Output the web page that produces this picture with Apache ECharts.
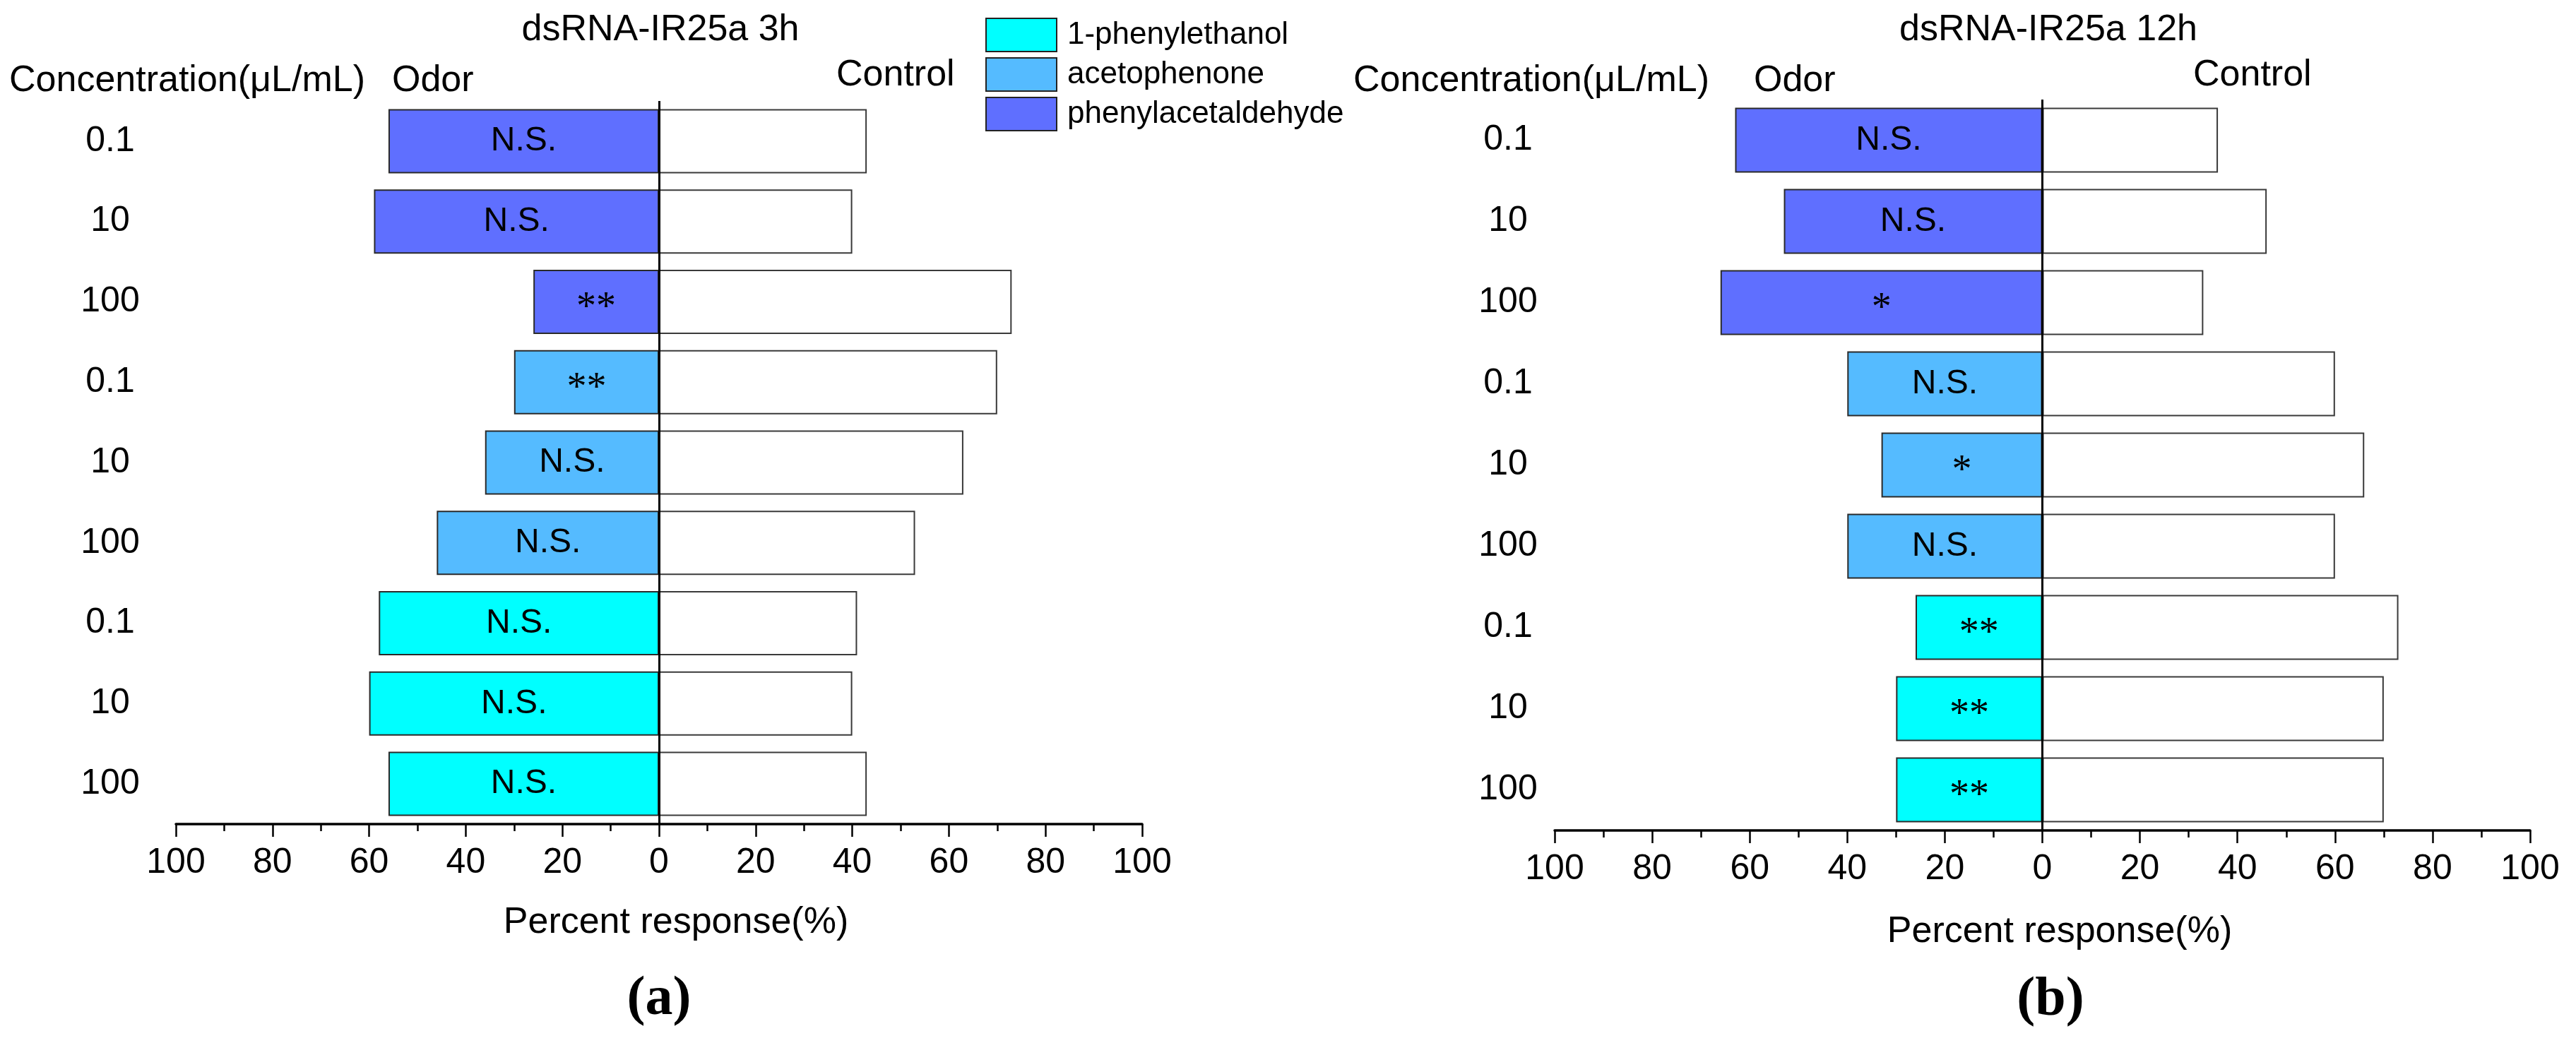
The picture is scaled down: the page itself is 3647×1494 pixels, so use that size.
<!DOCTYPE html>
<html><head><meta charset="utf-8">
<script src="https://cdn.jsdelivr.net/npm/echarts@6/dist/echarts.min.js"></script>
<style>html,body{margin:0;padding:0;background:#fff}#c{width:3647px;height:1494px}</style>
</head><body><div id="c"></div>
<script>
// ---------- data ----------
const categories = ['0.1', '10', '100', '0.1', '10', '100', '0.1', '10', '100'];
const compounds = ['1-phenylethanol', 'acetophenone', 'phenylacetaldehyde'];
const rowCompound = ['phenylacetaldehyde', 'phenylacetaldehyde', 'phenylacetaldehyde',
  'acetophenone', 'acetophenone', 'acetophenone',
  '1-phenylethanol', '1-phenylethanol', '1-phenylethanol'];
const odor3h = [56, 59, 26, 30, 36, 46, 58, 60, 56];
const control3h = [43, 40, 73, 70, 63, 53, 41, 40, 43];
const sig3h = ['N.S.', 'N.S.', '**', '**', 'N.S.', 'N.S.', 'N.S.', 'N.S.', 'N.S.'];
const odor12h = [63, 53, 66, 40, 33, 40, 26, 30, 30];
const control12h = [36, 46, 33, 60, 66, 60, 73, 70, 70];
const sig12h = ['N.S.', 'N.S.', '*', 'N.S.', '*', 'N.S.', '**', '**', '**'];
const panelTitles = ['dsRNA-IR25a 3h', 'dsRNA-IR25a 12h'];
const panelLetters = ['(a)', '(b)'];

// ---------- styles ----------
const colors = {
  '1-phenylethanol': '#00FFFF',
  'acetophenone': '#55BBFF',
  'phenylacetaldehyde': '#5F6FFF'
};
const SANS = '"Liberation Sans", Arial, sans-serif';
const SERIF = '"Liberation Serif", "Times New Roman", serif';

function panelSeries(gi, odor, control, sig) {
  const s = [];
  compounds.forEach(c => {
    s.push({
      name: c, type: 'bar', xAxisIndex: gi, yAxisIndex: gi,
      barWidth: '80%', barGap: '-100%',
      data: odor.map((v, i) => rowCompound[i] === c ? -v : null),
      itemStyle: { color: colors[c], borderColor: '#2a2a2a', borderWidth: 2 },
      label: {
        show: true, position: 'inside',
        formatter: p => sig[p.dataIndex] === 'N.S.' ? '{ns|N.S.}' : '{st|' + sig[p.dataIndex] + '}',
        rich: {
          ns: { fontFamily: SANS, fontSize: 48, color: '#000' },
          st: { fontFamily: SERIF, fontSize: 56, color: '#000', padding: [20, 0, 0, 0] }
        }
      },
      silent: true
    });
  });
  s.push({
    name: 'Control', type: 'bar', xAxisIndex: gi, yAxisIndex: gi,
    barWidth: '80%', barGap: '-100%',
    data: control,
    itemStyle: { color: '#fff', borderColor: '#3a3a3a', borderWidth: 2 },
    markLine: {
      silent: true, symbol: 'none', label: { show: false },
      lineStyle: { color: '#000', width: 3, type: 'solid' },
      data: [{ xAxis: 0 }]
    },
    silent: true
  });
  return s;
}

function xAxis(gi) {
  return {
    type: 'value', gridIndex: gi, min: -100, max: 100, interval: 20,
    axisLine: { show: true, onZero: false, lineStyle: { color: '#000', width: 3.5 } },
    axisTick: { show: true, length: 18, lineStyle: { color: '#000', width: 2.5 } },
    minorTick: { show: true, splitNumber: 2, length: 10, lineStyle: { color: '#000', width: 2.5 } },
    splitLine: { show: false }, minorSplitLine: { show: false },
    axisLabel: { fontFamily: SANS, fontSize: 50, color: '#000', margin: 30, formatter: v => Math.abs(v) }
  };
}
function yAxis(gi, margin) {
  return {
    type: 'category', gridIndex: gi, data: categories, inverse: true, position: 'left',
    axisLine: { show: false, onZero: false }, axisTick: { show: false }, splitLine: { show: false },
    axisLabel: { fontFamily: SANS, fontSize: 50, color: '#000', align: 'center', margin: margin }
  };
}

function txt(text, x, y, font, align) {
  return {
    type: 'text', x: x, y: y, silent: true,
    style: { text: text, font: font, fill: '#000', align: align || 'center', verticalAlign: 'middle',
      textAlign: align || 'center', textVerticalAlign: 'middle' }
  };
}

const chart = echarts.init(document.getElementById('c'), null, { renderer: 'canvas' });
chart.setOption({
  animation: false,
  backgroundColor: '#fff',
  grid: [
    { left: 249, right: 2030, top: 143, bottom: 327 },
    { left: 2201, right: 65, top: 141, bottom: 318 }
  ],
  legend: {
    data: compounds, orient: 'vertical', left: 1390, top: 20,
    itemWidth: 100, itemHeight: 47, itemGap: 7, icon: 'rect',
    itemStyle: { borderColor: '#222', borderWidth: 2 },
    textStyle: { fontFamily: SANS, fontSize: 44, color: '#000', padding: [0, 0, 0, 10] },
    selectedMode: false
  },
  xAxis: [xAxis(0), xAxis(1)],
  yAxis: [yAxis(0, 93), yAxis(1, 66)],
  series: [...panelSeries(0, odor3h, control3h, sig3h), ...panelSeries(1, odor12h, control12h, sig12h)],
  graphic: [
    txt(panelTitles[0], 935, 43, '52px ' + SANS),
    txt(panelTitles[1], 2900, 43, '52px ' + SANS),
    txt('Concentration(μL/mL)', 13, 115, '52px ' + SANS, 'left'),
    txt('Concentration(μL/mL)', 1916, 115, '52px ' + SANS, 'left'),
    txt('Odor', 555, 115, '52px ' + SANS, 'left'),
    txt('Odor', 2483, 115, '52px ' + SANS, 'left'),
    txt('Control', 1184, 107, '52px ' + SANS, 'left'),
    txt('Control', 3105, 107, '52px ' + SANS, 'left'),
    txt('Percent response(%)', 957, 1307, '52px ' + SANS),
    txt('Percent response(%)', 2916, 1320, '52px ' + SANS),
    txt(panelLetters[0], 933, 1416, 'bold 78px ' + SERIF),
    txt(panelLetters[1], 2903, 1417, 'bold 78px ' + SERIF)
  ]
});
</script></body></html>
